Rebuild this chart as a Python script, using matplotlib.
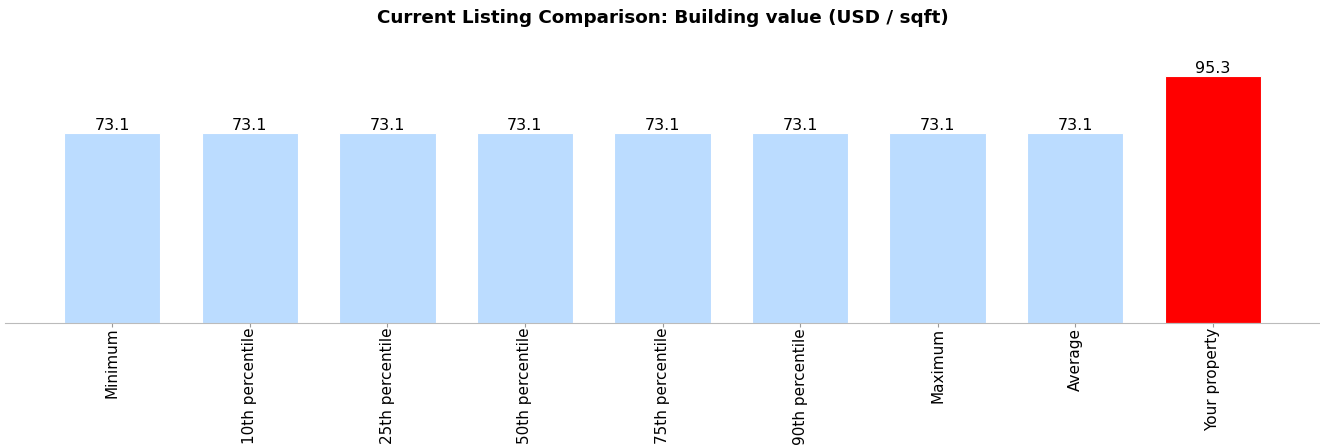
import matplotlib
matplotlib.use("Agg")
import matplotlib.pyplot as plt

# data
labels = ["Minimum", "10th percentile", "25th percentile", "50th percentile",
          "75th percentile", "90th percentile", "Maximum", "Average", "Your property"]
values = [73.1, 73.1, 73.1, 73.1, 73.1, 73.1, 73.1, 73.1, 95.3]
colors = ["#bbdcff"] * 8 + ["#ff0000"]

fig = plt.figure(figsize=(13.2, 4.46), dpi=100)
ax = fig.add_axes([0.0038, 0.2758, 0.9962, 0.6457])

xs = list(range(len(labels)))
bars = ax.bar(xs, values, width=0.7, color=colors, edgecolor="white", linewidth=0.8)

for x, v in zip(xs, values):
    ax.text(x, v, f"{v:.1f}", ha="center", va="bottom", fontsize=11.5)

ax.set_xticks(xs)
ax.set_xticklabels(labels, rotation=90, fontsize=11)
ax.set_xlim(-0.78, 8.78)
ax.set_ylim(0, 111)
ax.set_yticks([])
for s in ["top", "right", "left"]:
    ax.spines[s].set_visible(False)
ax.spines["bottom"].set_color("#bbbbbb")
ax.tick_params(axis="x", colors="#999999", labelcolor="black", length=3, pad=0.5)

ax.set_title("Current Listing Comparison: Building value (USD / sqft)",
             fontsize=13.2, fontweight="bold", pad=8.5)

fig.savefig("out.png", dpi=100)
